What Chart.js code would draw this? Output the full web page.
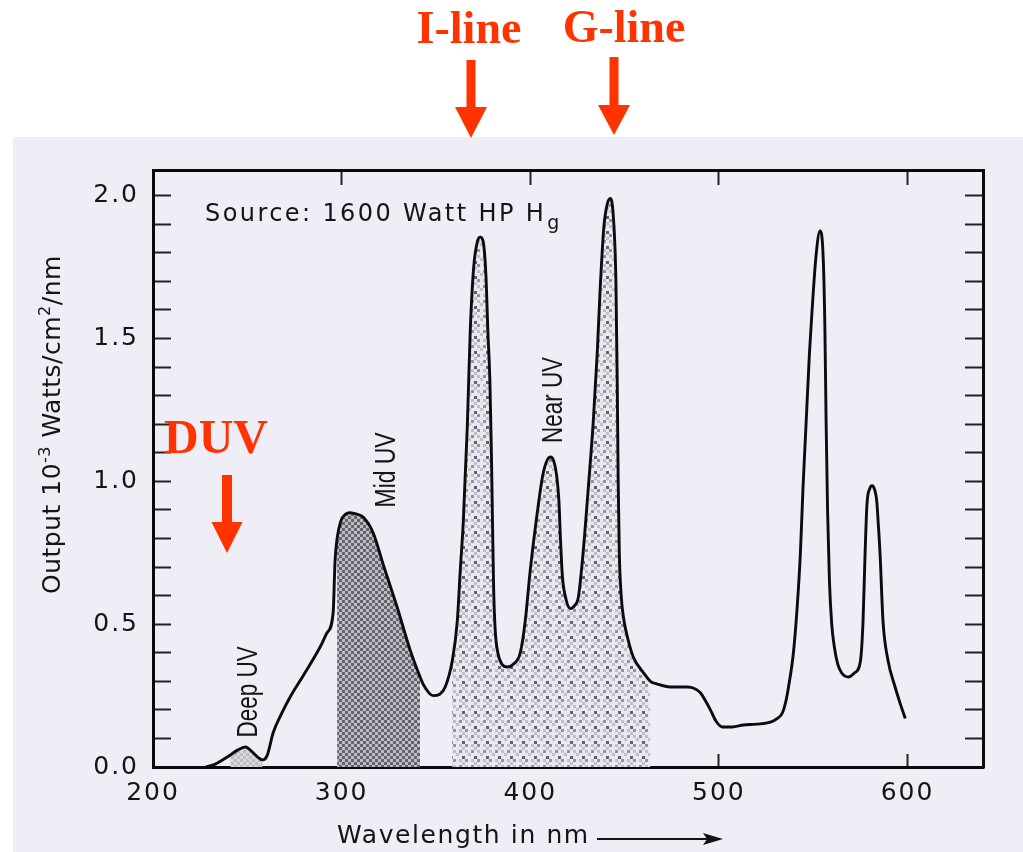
<!DOCTYPE html>
<html><head><meta charset="utf-8">
<script src="https://cdn.jsdelivr.net/npm/chart.js@4.4.1/dist/chart.umd.min.js"></script>
<style>html,body{margin:0;padding:0;background:#fff;overflow:hidden}canvas{display:block}</style>
</head><body>
<canvas id="c" width="1023" height="852" style="width:1023px;height:852px"></canvas>
<script>
// ---- data ----
const wavelengthNm = [228,233,237,241,245,249,253,256,258,260.5,263.7,268.4,272.7,280.6,288.6,292.3,295.5,296.5,297.6,299.5,302,304.5,308,311.4,316.7,322,329.4,336.3,341.6,343.2,348.5,352,354.9,358.6,361.3,362.9,364.5,366.6,368.2,370,372,373.5,375,376.5,377.5,378.6,379.4,380,380.6,381.4,382.8,385,387.8,391,394.7,397.3,400,403.7,406.9,410.6,412.5,414,415.2,416,417,418.5,421.2,423.5,425.5,428,430.8,433.4,435.5,437.1,439,440.8,442.4,444,445.4,446.1,446.6,447.2,448.2,449.5,451.5,454.6,460,463.7,467.4,474.3,483.3,487,490.2,493,495.5,498.5,501.9,507,513,520,527.3,531,533.7,535.5,536.9,539.5,541.6,543.2,544.6,546.2,548,549.4,551.5,553.6,555.3,556.2,556.8,557.6,558.6,559.8,561.2,563,565,568.7,572,575,576.4,577.5,578.5,580,581.2,582.6,583.7,584.4,585.4,587,589.6,593.4,596.2,598.8];
const outputValues = [0,0.01,0.025,0.042,0.06,0.07,0.05,0.032,0.025,0.04,0.12,0.19,0.245,0.33,0.42,0.47,0.54,0.72,0.80,0.86,0.885,0.89,0.885,0.875,0.82,0.71,0.56,0.41,0.315,0.29,0.25,0.255,0.28,0.37,0.51,0.69,0.86,1.19,1.53,1.75,1.84,1.855,1.84,1.72,1.53,1.35,1.1,0.85,0.62,0.48,0.40,0.36,0.35,0.36,0.40,0.51,0.69,0.89,1.03,1.085,1.07,1.02,0.93,0.80,0.67,0.60,0.555,0.565,0.595,0.75,0.98,1.21,1.45,1.68,1.89,1.97,1.99,1.93,1.70,1.35,1.0,0.75,0.60,0.52,0.455,0.385,0.33,0.30,0.29,0.28,0.28,0.275,0.26,0.23,0.20,0.16,0.14,0.14,0.147,0.15,0.157,0.17,0.19,0.23,0.28,0.40,0.57,0.75,0.98,1.2,1.45,1.6,1.79,1.877,1.78,1.53,1.22,0.9,0.65,0.50,0.42,0.36,0.33,0.315,0.33,0.37,0.51,0.75,0.92,0.975,0.985,0.97,0.93,0.86,0.75,0.51,0.375,0.28,0.22,0.17];
const regionLabels = ['Deep UV','Mid UV','Near UV'];
const regionStartNm = [241, 297.6, 358.6];
const regionEndNm = [258, 341.6, 463.7];
const xAxisMin = 200, xAxisMax = 640, xTickStep = 100;
const yAxisMin = 0, yAxisMax = 2.09, yTickStep = 0.1, yLabelStep = 0.5;
const sourceText = 'Source: 1600 Watt HP H', sourceSub = 'g';
const xTitle = 'Wavelength in nm';

// ---- fill patterns ----
const cv = document.getElementById('c');
const mainCtx = cv.getContext('2d');
function blockPattern(map, colors, cell){
  const rows = map.length, cols = map[0].length;
  const t = document.createElement('canvas');
  t.width = cols*cell; t.height = rows*cell;
  const g = t.getContext('2d');
  for(let r=0;r<rows;r++) for(let c=0;c<cols;c++){
    g.fillStyle = colors[map[r][c]]; g.fillRect(c*cell, r*cell, cell, cell);
  }
  return mainCtx.createPattern(t, 'repeat');
}
const midPattern = blockPattern(['DL','LD'], {D:'#62646f', L:'#bfbbc1'}, 3);
const nearPattern = blockPattern(['LdLm','mLLL','LLDL','LmLd','LLmL'],
  {L:'#eae7ef', m:'#c1bfca', d:'#8f93a4', D:'#5c6275'}, 3);
const deepPattern = blockPattern(['Lm','mL'], {L:'#dbd9e0', m:'#bdbcc5'}, 3);
const regionFills = [deepPattern, midPattern, nearPattern];

const curvePoints = wavelengthNm.map((x,i)=>({x, y: outputValues[i]}));
const regionDatasets = regionLabels.map((name,k)=>({
  label: name,
  data: curvePoints.filter(p => p.x >= regionStartNm[k] - 1e-9 && p.x <= regionEndNm[k] + 1e-9),
  borderWidth: 0, pointRadius: 0, fill: 'origin',
  backgroundColor: regionFills[k], cubicInterpolationMode: 'monotone', order: 2
}));

const FONT = '"DejaVu Sans", "Liberation Sans", Arial, sans-serif';

const bgPlugin = {
  id: 'bg',
  beforeDraw(chart){
    const c = chart.ctx;
    c.save();
    c.fillStyle = '#ffffff'; c.fillRect(0,0,chart.width,chart.height);
    c.fillStyle = '#efedf5'; c.fillRect(13,137,chart.width-13,chart.height-137);
    c.restore();
    c.letterSpacing = '2px';
  }
};

function redArrow(c, x, yTop, yHeadTop, yTip, shaftHalf, headHalf){
  c.beginPath();
  c.moveTo(x-shaftHalf, yTop); c.lineTo(x+shaftHalf, yTop);
  c.lineTo(x+shaftHalf, yHeadTop); c.lineTo(x+headHalf, yHeadTop);
  c.lineTo(x, yTip); c.lineTo(x-headHalf, yHeadTop);
  c.lineTo(x-shaftHalf, yHeadTop); c.closePath(); c.fill();
}

const annotPlugin = {
  id: 'annot',
  afterDraw(chart){
    const c = chart.ctx, xs = chart.scales.x, ys = chart.scales.y;
    c.save();
    c.fillStyle = '#141414';
    // source text
    c.letterSpacing = '2.4px';
    c.font = '24px ' + FONT; c.textAlign = 'left'; c.textBaseline = 'alphabetic';
    const sx = xs.getPixelForValue(227.6), sy = ys.getPixelForValue(1.913);
    c.fillText(sourceText, sx, sy);
    const sw = c.measureText(sourceText).width;
    c.font = '19px ' + FONT; c.fillText(sourceSub, sx + sw + 1, sy + 8);

    // rotated region labels
    const labelPos = [[250.4,0.263,91],[323.5,1.04,75],[412,1.285,86]];
    c.letterSpacing = '0px';
    regionLabels.forEach((t,k)=>{
      const [nx, vy, len] = labelPos[k];
      c.save();
      c.translate(xs.getPixelForValue(nx), ys.getPixelForValue(vy));
      c.rotate(-Math.PI/2);
      c.font = '29px "Liberation Sans", Arial, sans-serif';
      const w = c.measureText(t).width;
      c.scale(len/w, 1);
      c.textAlign = 'center'; c.textBaseline = 'middle';
      c.fillText(t, 0, 1);
      c.restore();
    });

    // y axis title
    c.save();
    c.translate(60, 594); c.rotate(-Math.PI/2);
    c.textAlign = 'left'; c.textBaseline = 'alphabetic'; c.letterSpacing = '0.5px';
    let px = 0;
    const seg = (t, size, dy) => { c.font = size + 'px ' + FONT; c.fillText(t, px, dy); px += c.measureText(t).width; };
    seg('Output 10', 25, 0); seg('-3', 16, -10); seg(' Watts/cm', 25, 0); seg('2', 16, -10); seg('/nm', 25, 0);
    c.restore();

    // x axis title with arrow
    c.letterSpacing = '1.6px';
    c.font = '25px ' + FONT; c.textAlign = 'left'; c.textBaseline = 'alphabetic';
    c.fillText(xTitle, 337, 843);
    c.strokeStyle = '#141414'; c.lineWidth = 2;
    c.beginPath(); c.moveTo(597, 839); c.lineTo(712, 839); c.stroke();
    c.beginPath(); c.moveTo(723, 839); c.lineTo(703, 833); c.lineTo(707, 839); c.lineTo(703, 845); c.closePath(); c.fill();

    // red annotations
    c.letterSpacing = '0px';
    c.fillStyle = '#ff3300';
    c.font = 'bold 46px "Liberation Serif", "Times New Roman", serif';
    c.textAlign = 'center'; c.textBaseline = 'alphabetic';
    c.fillText('I-line', 469, 43);
    c.fillText('G-line', 624, 42);
    c.font = 'bold 48px "Liberation Serif", "Times New Roman", serif';
    c.fillText('DUV', 216, 453);
    redArrow(c, 471, 60, 107, 138, 4.5, 16);
    redArrow(c, 614, 57, 105, 135, 4.5, 16);
    redArrow(c, 227, 475, 522, 553, 5, 15.5);
    c.restore();
  }
};

const tickFont = {family: FONT, size: 25};
new Chart(cv, {
  type: 'line',
  data: {
    datasets: [
      { label: 'Output', data: curvePoints, borderColor: '#0c0c0c', borderWidth: 2.9,
        pointRadius: 0, fill: false, cubicInterpolationMode: 'monotone', order: 0 },
      ...regionDatasets
    ]
  },
  options: {
    responsive: false, animation: false, devicePixelRatio: 1,
    layout: { padding: { left: 0, top: 170, right: 40, bottom: 0 } },
    plugins: { legend: { display: false }, tooltip: { enabled: false }, title: { display: false } },
    scales: {
      x: { type: 'linear', position: 'bottom', min: xAxisMin, max: xAxisMax, z: 1,
        ticks: { stepSize: xTickStep, includeBounds: false, autoSkip: false, maxRotation: 0,
          font: tickFont, color: '#151515', padding: 24, callback: v => String(v) },
        grid: { drawOnChartArea: false, drawTicks: true, tickLength: -13, tickWidth: 2, tickColor: '#222' },
        border: { display: true, color: '#0a0a0a', width: 3 },
        afterFit(s){ s.height = 85; } },
      x2: { type: 'linear', position: 'top', min: xAxisMin, max: xAxisMax, z: 1,
        ticks: { display: false, stepSize: xTickStep, includeBounds: false },
        grid: { drawOnChartArea: false, drawTicks: true, tickLength: -15, tickWidth: 2, tickColor: '#222' },
        border: { display: true, color: '#0a0a0a', width: 3 },
        afterFit(s){ s.height = 0; } },
      y: { type: 'linear', position: 'left', min: yAxisMin, max: yAxisMax, z: 1,
        ticks: { stepSize: yTickStep, includeBounds: false, autoSkip: false,
          font: tickFont, color: '#151515', padding: 32,
          callback: v => { const r = v / yLabelStep; return Math.abs(r - Math.round(r)) < 1e-6 ? v.toFixed(1) : ''; } },
        grid: { drawOnChartArea: false, drawTicks: true, tickLength: -18, tickWidth: 2, tickColor: '#222' },
        border: { display: true, color: '#0a0a0a', width: 3 },
        afterFit(s){ s.width = 153; } },
      y2: { type: 'linear', position: 'right', min: yAxisMin, max: yAxisMax, z: 1,
        ticks: { display: false, stepSize: yTickStep, includeBounds: false },
        grid: { drawOnChartArea: false, drawTicks: true, tickLength: -18, tickWidth: 2, tickColor: '#222' },
        border: { display: true, color: '#0a0a0a', width: 3 },
        afterFit(s){ s.width = 0; } }
    }
  },
  plugins: [bgPlugin, annotPlugin]
});
</script>
</body></html>
